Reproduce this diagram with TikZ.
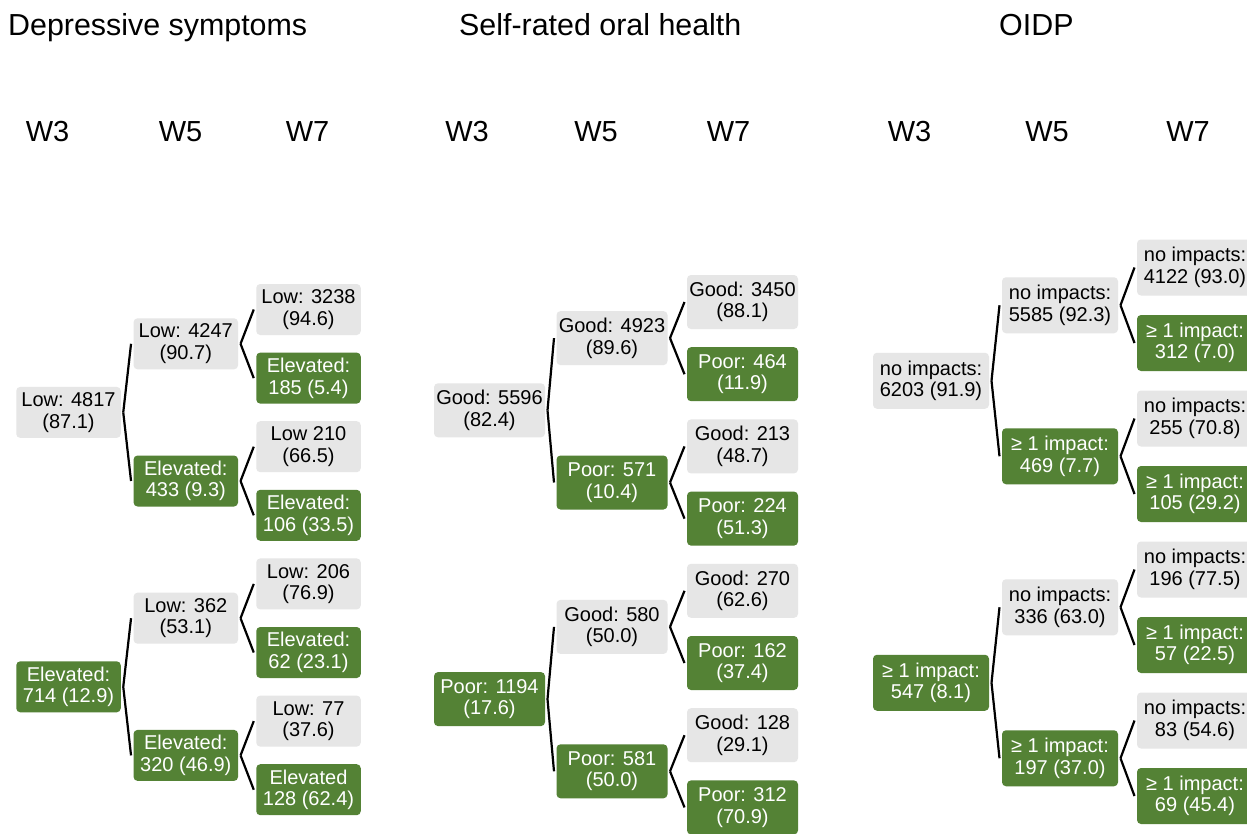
\documentclass[tikz,border=0pt]{standalone}
\usepackage{fontspec}
\setmainfont{Liberation Sans}
\definecolor{boxgreen}{RGB}{84,130,53}
\definecolor{boxgray}{RGB}{230,230,230}
\begin{document}
\begin{tikzpicture}[x=1pt,y=-1pt,
  box/.style={rounded corners=4pt, inner sep=0pt, outer xsep=2.5pt, align=center,
    font=\fontsize{20}{21.5}\selectfont},
  lo/.style={box, fill=boxgray, text=black},
  hi/.style={box, fill=boxgreen, text=white},
  dep/.style={minimum width=104.5pt, minimum height=51pt},
  srh/.style={minimum width=111pt, minimum height=54pt},
  oid/.style={minimum width=116pt, minimum height=56pt},
  ttl/.style={anchor=base west, inner sep=0pt, font=\fontsize{30.4}{34}\selectfont},
  wave/.style={anchor=base, inner sep=0pt, font=\fontsize{29}{33}\selectfont},
  conn/.style={draw=black, line width=2.2pt}]
\clip (0,0) rectangle (1247,833);
\fill[white] (0,0) rectangle (1247,833);

% titles
\node[ttl] (t1) at (8,35) {Depressive symptoms};
\node[ttl] (t2) at (459,35) {Self-rated oral health};
\node[ttl] (t3) at (999,35) {OIDP};

% wave headers
\node[wave] (hd3) at (47.5,141.5) {W3};
\node[wave] (hd5) at (180.5,141.5) {W5};
\node[wave] (hd7) at (307.5,141.5) {W7};
\node[wave] (hs3) at (467,141.5) {W3};
\node[wave] (hs5) at (596,141.5) {W5};
\node[wave] (hs7) at (728.5,141.5) {W7};
\node[wave] (ho3) at (909.5,141.5) {W3};
\node[wave] (ho5) at (1047,141.5) {W5};
\node[wave] (ho7) at (1188,141.5) {W7};

% ---------------- Depressive symptoms ----------------
\node[lo,dep] (d1) at (68.5,412.4) {Low: 4817\\(87.1)};
\node[hi,dep] (d2) at (68.5,686.8) {Elevated:\\714 (12.9)};
\node[lo,dep] (d11) at (185.8,343.8) {Low: 4247\\(90.7)};
\node[hi,dep] (d12) at (185.8,481.0) {Elevated:\\433 (9.3)};
\node[lo,dep] (d21) at (185.8,618.2) {Low: 362\\(53.1)};
\node[hi,dep] (d22) at (185.8,755.4) {Elevated:\\320 (46.9)};
\node[lo,dep] (d111) at (308.5,309.5) {Low: 3238\\(94.6)};
\node[hi,dep] (d112) at (308.5,378.1) {Elevated:\\185 (5.4)};
\node[lo,dep] (d121) at (308.5,446.7) {Low 210\\(66.5)};
\node[hi,dep] (d122) at (308.5,515.3) {Elevated:\\106 (33.5)};
\node[lo,dep] (d211) at (308.5,583.9) {Low: 206\\(76.9)};
\node[hi,dep] (d212) at (308.5,652.5) {Elevated:\\62 (23.1)};
\node[lo,dep] (d221) at (308.5,721.1) {Low: 77\\(37.6)};
\node[hi,dep] (d222) at (308.5,789.7) {Elevated\\128 (62.4)};

% ---------------- Self-rated oral health ----------------
\node[lo,srh] (s1) at (489.5,410.3) {Good: 5596\\(82.4)};
\node[hi,srh] (s2) at (489.5,699.1) {Poor: 1194\\(17.6)};
\node[lo,srh] (s11) at (612,338.1) {Good: 4923\\(89.6)};
\node[hi,srh] (s12) at (612,482.5) {Poor: 571\\(10.4)};
\node[lo,srh] (s21) at (612,626.9) {Good: 580\\(50.0)};
\node[hi,srh] (s22) at (612,771.3) {Poor: 581\\(50.0)};
\node[lo,srh] (s111) at (742.5,302) {Good: 3450\\(88.1)};
\node[hi,srh] (s112) at (742.5,374.2) {Poor: 464\\(11.9)};
\node[lo,srh] (s121) at (742.5,446.4) {Good: 213\\(48.7)};
\node[hi,srh] (s122) at (742.5,518.6) {Poor: 224\\(51.3)};
\node[lo,srh] (s211) at (742.5,590.8) {Good: 270\\(62.6)};
\node[hi,srh] (s212) at (742.5,663) {Poor: 162\\(37.4)};
\node[lo,srh] (s221) at (742.5,735.2) {Good: 128\\(29.1)};
\node[hi,srh] (s222) at (742.5,807.4) {Poor: 312\\(70.9)};

% ---------------- OIDP ----------------
\node[lo,oid] (o1) at (931,380.75) {no impacts:\\6203 (91.9)};
\node[hi,oid] (o2) at (931,682.75) {≥ 1 impact:\\547 (8.1)};
\node[lo,oid] (o11) at (1060,305.25) {no impacts:\\5585 (92.3)};
\node[hi,oid] (o12) at (1060,456.25) {≥ 1 impact:\\469 (7.7)};
\node[lo,oid] (o21) at (1060,607.25) {no impacts:\\336 (63.0)};
\node[hi,oid] (o22) at (1060,758.25) {≥ 1 impact:\\197 (37.0)};
\node[lo,oid] (o111) at (1195,267.5) {no impacts:\\4122 (93.0)};
\node[hi,oid] (o112) at (1195,343) {≥ 1 impact:\\312 (7.0)};
\node[lo,oid] (o121) at (1195,418.5) {no impacts:\\255 (70.8)};
\node[hi,oid] (o122) at (1195,494) {≥ 1 impact:\\105 (29.2)};
\node[lo,oid] (o211) at (1195,569.5) {no impacts:\\196 (77.5)};
\node[hi,oid] (o212) at (1195,645) {≥ 1 impact:\\57 (22.5)};
\node[lo,oid] (o221) at (1195,720.5) {no impacts:\\83 (54.6)};
\node[hi,oid] (o222) at (1195,796) {≥ 1 impact:\\69 (45.4)};

% connectors
\foreach \p in {d,s,o}{
  \foreach \a in {1,2}{
    \draw[conn] (\p\a.east) -- (\p\a1.west);
    \draw[conn] (\p\a.east) -- (\p\a2.west);
    \foreach \b in {1,2}{
      \draw[conn] (\p\a\b.east) -- (\p\a\b1.west);
      \draw[conn] (\p\a\b.east) -- (\p\a\b2.west);
    }
  }
}
\end{tikzpicture}
\end{document}
